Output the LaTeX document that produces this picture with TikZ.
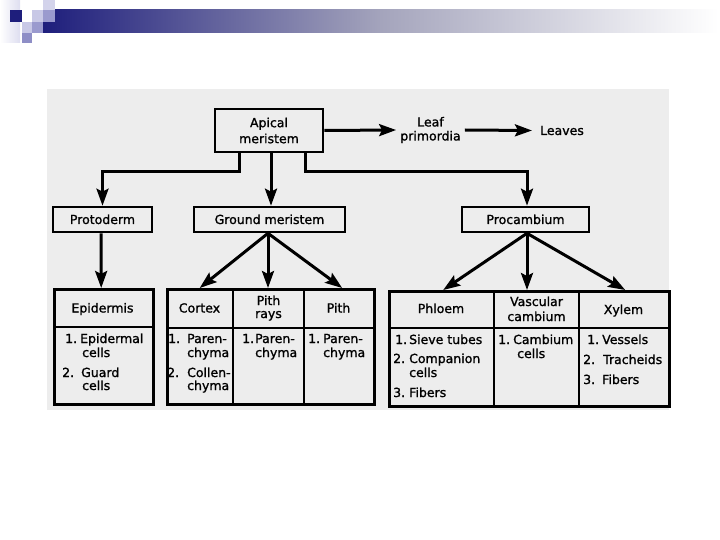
\documentclass[tikz,border=0pt]{standalone}
\usepackage{fontspec}
\newfontfamily\dvj[FakeBold=1.2]{DejaVu Sans}
\usetikzlibrary{arrows.meta}
\definecolor{navy}{HTML}{1E1E7C}
\definecolor{midlav}{HTML}{9A9ACE}
\definecolor{litlav}{HTML}{C8C8E6}
\definecolor{palelav}{HTML}{DEDEF0}
\definecolor{scan}{HTML}{EDEDED}
\definecolor{barmid}{HTML}{A4A4BC}
\newcommand\nb[2][15pt]{\makebox[#1][l]{#2}}
\tikzset{
  fnt/.style={font=\dvj\fontsize{12.5}{15}\selectfont},
  ln/.style={line width=2.6pt},
  arr/.style={line width=3pt, -{Stealth[length=17pt,width=12pt,inset=3pt]}},
  box/.style={draw, line width=2.6pt, inner sep=0pt, fnt, text height=9pt, text depth=0pt},
  cellarea/.style={inner sep=0pt},
  hd/.style={fnt, inner sep=0pt, anchor=base},
  tl/.style={fnt, inner sep=0pt, anchor=base west},
}
\begin{document}
\begin{tikzpicture}[x=1pt,y=-1pt]
\useasboundingbox (0,0) rectangle (720,540);
% ---- decoration
\shade[left color=white, right color=palelav] (0,0) rectangle (20,43);
\shade[left color=navy, right color=white, middle color=barmid] (43,10) rectangle (718,33);
\fill[navy] (10,10) rectangle (22,22);
\fill[litlav] (32,10) rectangle (43,22);
\fill[litlav!80] (43,0) rectangle (55,10);
\fill[midlav] (43,10) rectangle (55,22);
\fill[litlav] (22,22) rectangle (32,33);
\fill[midlav] (32,22) rectangle (43,33);
\fill[midlav!90!navy] (22,33) rectangle (32,43);
% ---- scanned area
\fill[scan] (47,89) rectangle (669,410);
% ---- top row
\node[box, minimum width=108pt, minimum height=43pt, align=center, text height=, text depth=, font=\dvj\fontsize{12.5}{16}\selectfont] (apical) at (269,130.5) {Apical\\meristem};
\node[fnt, align=center, inner sep=4pt, font=\dvj\fontsize{12.5}{14}\selectfont] (leaf) at (430.5,130) {Leaf\\primordia};
\node[fnt, inner sep=4pt] (leaves) at (562,130.5) {Leaves};
\draw[arr] (apical.east) -- (leaf.west);
\draw[arr] (leaf.east) -- ([xshift=-4pt]leaves.west);
% ---- second row
\node[box, minimum width=99pt, minimum height=25pt] (proto) at (102.5,219.5) {Protoderm};
\node[box, minimum width=151pt, minimum height=25pt] (gm) at (269.5,219.5) {Ground meristem};
\node[box, minimum width=127pt, minimum height=25pt] (procam) at (525.5,219.5) {Procambium};
\draw[arr] ([xshift=-30pt]apical.south) -- ([xshift=-30pt]apical.south |- 0,172) -| (proto.north);
\draw[arr] ([xshift=2pt]apical.south) -- ([xshift=2pt]apical.south |- gm.north);
\draw[arr] ([xshift=36pt]apical.south) -- ([xshift=36pt]apical.south |- 0,172) -| ([xshift=1.5pt]procam.north);
% ---- third row boxes
\node[box, minimum width=99pt, minimum height=115pt, anchor=north west] (epibox) at (53,288) {};
\node[box, minimum width=207pt, minimum height=115pt, anchor=north west] (grbox) at (166,288) {};
\node[box, minimum width=280pt, minimum height=115pt, anchor=north west] (prbox) at (388,290) {};
\draw[ln] (53,327) -- (152,327);
\draw[ln] (166,328) -- (373,328);
\draw[ln] (233,288) -- (233,403);
\draw[ln] (304,288) -- (304,403);
\draw[ln] (388,328) -- (668,328);
\draw[ln] (494,290) -- (494,405);
\draw[ln] (579,290) -- (579,405);
% header cells
\node[cellarea, minimum width=99pt, minimum height=39pt, anchor=north west] (epih) at (53,288) {};
\node[cellarea, minimum width=67pt, minimum height=40pt, anchor=north west] (cortexh) at (166,288) {};
\node[cellarea, minimum width=71pt, minimum height=40pt, anchor=north west] (pithrh) at (233,288) {};
\node[cellarea, minimum width=69pt, minimum height=40pt, anchor=north west] (pithh) at (304,288) {};
\node[cellarea, minimum width=106pt, minimum height=38pt, anchor=north west] (phloemh) at (388,290) {};
\node[cellarea, minimum width=85pt, minimum height=38pt, anchor=north west] (vasch) at (494,290) {};
\node[cellarea, minimum width=89pt, minimum height=38pt, anchor=north west] (xylemh) at (579,290) {};
% arrows to third row
\draw[arr] ([xshift=-1.5pt]proto.south) -- ([xshift=-1.5pt]epih.north);
\draw[arr] ([xshift=-1.5pt]gm.south) -- (cortexh.north);
\draw[arr] ([xshift=-1.5pt]gm.south) -- ([xshift=-1.5pt]gm.south |- pithrh.north);
\draw[arr] ([xshift=-1.5pt]gm.south) -- ([xshift=3.5pt]pithh.north);
\draw[arr] ([xshift=1.5pt]procam.south) -- ([xshift=2pt]phloemh.north);
\draw[arr] ([xshift=1.5pt]procam.south) -- ([xshift=1.5pt]procam.south |- vasch.north);
\draw[arr] ([xshift=1.5pt]procam.south) -- ([xshift=1.5pt]xylemh.north);
% header texts
\node[hd] (t1) at (102.5,312.5) {Epidermis};
\node[hd] (t2) at (199.5,312.5) {Cortex};
\node[hd] (t3) at (268.5,305) {Pith};
\node[hd] (t4) at (268.5,318) {rays};
\node[hd] (t5) at (338.5,312.5) {Pith};
\node[hd] (t6) at (441,313) {Phloem};
\node[hd] (t7) at (536.5,306) {Vascular};
\node[hd] (t8) at (536.5,321) {cambium};
\node[hd] (t9) at (623.5,314) {Xylem};
% body texts
\node[tl] (b1) at (65,343) {\nb{1.}Epidermal};
\node[tl] (b2) at (82,357) {cells};
\node[tl] (b3) at (62,377) {\nb[19pt]{2.}Guard};
\node[tl] (b4) at (82,390) {cells};
\node[tl] (b5) at (168,343) {\nb[19pt]{1.}Paren-};
\node[tl] (b6) at (187,357) {chyma};
\node[tl] (b7) at (167,377) {\nb[20pt]{2.}Collen-};
\node[tl] (b8) at (187,390) {chyma};
\node[tl] (b9) at (242,343) {\nb[13pt]{1.}Paren-};
\node[tl] (b10) at (255,357) {chyma};
\node[tl] (b11) at (308,343) {\nb{1.}Paren-};
\node[tl] (b12) at (323,357) {chyma};
\node[tl] (b13) at (395,344) {\nb[14pt]{1.}Sieve tubes};
\node[tl] (b14) at (393,363) {\nb[16pt]{2.}Companion};
\node[tl] (b15) at (409,377) {cells};
\node[tl] (b16) at (393,397) {\nb[16pt]{3.}Fibers};
\node[tl] (b17) at (498,344) {\nb{1.}Cambium};
\node[tl] (b18) at (517,358) {cells};
\node[tl] (b19) at (587,344) {\nb{1.}Vessels};
\node[tl] (b20) at (583,364) {\nb[20pt]{2.}Tracheids};
\node[tl] (b21) at (583,384) {\nb[19pt]{3.}Fibers};
\end{tikzpicture}
\end{document}
